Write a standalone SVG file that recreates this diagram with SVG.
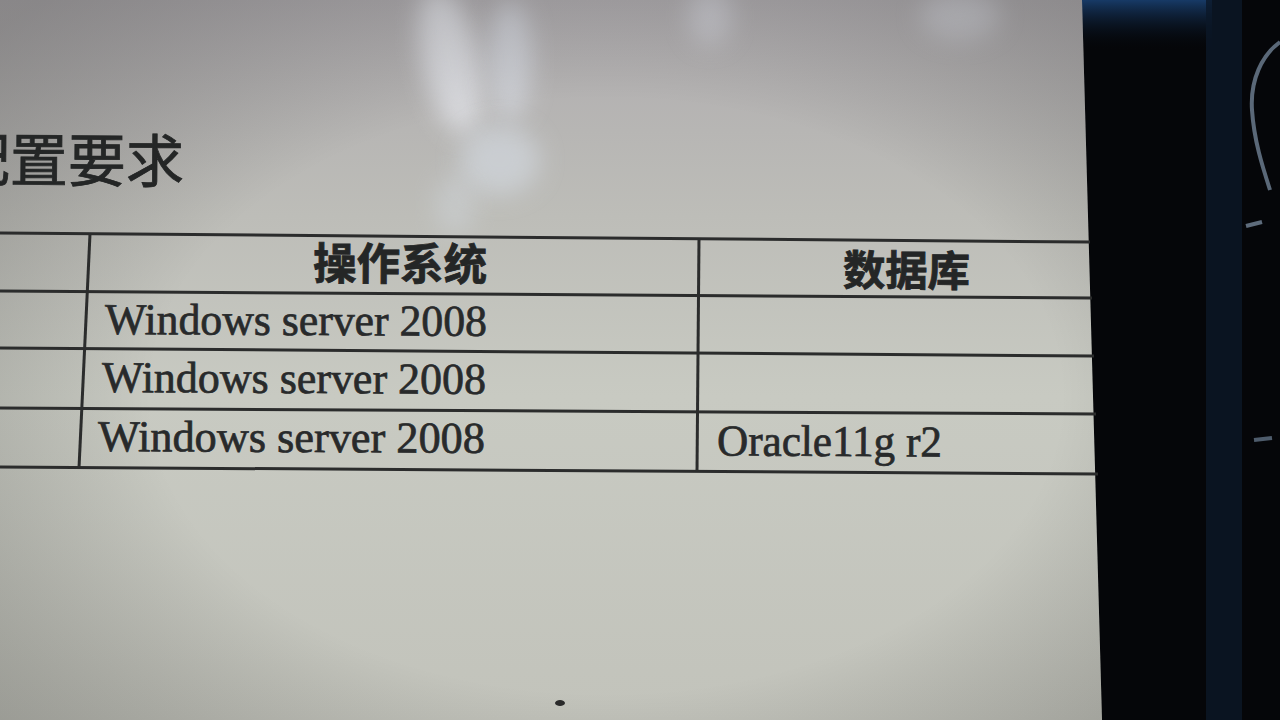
<svg xmlns="http://www.w3.org/2000/svg" width="1280" height="720" viewBox="0 0 1280 720">
<defs>
<linearGradient id="scr" x1="0" y1="0" x2="0" y2="1">
<stop offset="0" stop-color="#aeabae"/>
<stop offset="0.3" stop-color="#bdbdb8"/>
<stop offset="0.55" stop-color="#c8cac2"/>
<stop offset="1" stop-color="#c2c3bb"/>
</linearGradient>
<radialGradient id="vig" cx="0.55" cy="0.55" r="0.75">
<stop offset="0.55" stop-color="#000" stop-opacity="0"/>
<stop offset="1" stop-color="#2a2a28" stop-opacity="0.28"/>
</radialGradient>
<linearGradient id="blueglow" x1="0" y1="0" x2="0" y2="1">
<stop offset="0" stop-color="#173a66"/>
<stop offset="1" stop-color="#05080c" stop-opacity="0"/>
</linearGradient>
<filter id="blur" x="-50%" y="-50%" width="200%" height="200%"><feGaussianBlur stdDeviation="12"/></filter>
<filter id="soft"><feGaussianBlur stdDeviation="0.6"/></filter>
</defs>
<style>
.ln{stroke:#2b2c2c;stroke-width:3;fill:none}
.cjk{font-family:"Noto Sans CJK SC","Noto Sans CJK TC",sans-serif;fill:#242626;stroke:#242626;stroke-width:0.8}
.ser{font-family:"Liberation Serif","Times New Roman",serif;font-size:44px;fill:#282a2b;stroke:#282a2b;stroke-width:0.7}
</style>
<rect width="1280" height="720" fill="#050609"/>
<rect x="1082" y="0" width="130" height="50" fill="url(#blueglow)"/>
<rect x="1206" y="0" width="36" height="720" fill="#0b1828" opacity="0.8"/>
<path d="M1280 42 C1262 55 1250 80 1252 110 C1254 140 1262 165 1270 190" stroke="#5a6878" stroke-width="4" fill="none" filter="url(#soft)"/>
<path d="M1246 226 L1262 222" stroke="#5e6c7c" stroke-width="4"/>
<path d="M1254 440 L1272 438" stroke="#4e5c6c" stroke-width="4"/>
<g id="screen">
<polygon points="0,0 1082,0 1102,720 0,720" fill="url(#scr)"/>
<ellipse cx="450" cy="60" rx="28" ry="75" fill="#e6e8ee" opacity="0.7" filter="url(#blur)" transform="rotate(-12 450 60)"/>
<ellipse cx="510" cy="60" rx="22" ry="60" fill="#dfe4ee" opacity="0.55" filter="url(#blur)"/>
<ellipse cx="500" cy="160" rx="40" ry="35" fill="#d8dfe8" opacity="0.55" filter="url(#blur)"/>
<ellipse cx="455" cy="205" rx="20" ry="30" fill="#d8dfe8" opacity="0.35" filter="url(#blur)"/>
<ellipse cx="710" cy="15" rx="22" ry="30" fill="#d8dae2" opacity="0.5" filter="url(#blur)"/>
<ellipse cx="960" cy="15" rx="40" ry="25" fill="#d8dae2" opacity="0.5" filter="url(#blur)"/>
<polygon points="0,0 1082,0 1102,720 0,720" fill="url(#vig)"/>
<ellipse cx="560" cy="703" rx="5" ry="3" fill="#2a2a2a" filter="url(#soft)"/>
</g>
<g id="title">
<text class="cjk" x="-48" y="182" font-size="58" transform="rotate(0.4 90 160)">配置要求</text>
</g>
<g id="table">
<line class="ln" x1="0" y1="233" x2="1090" y2="242"/>
<line class="ln" x1="0" y1="291" x2="1092" y2="298"/>
<line class="ln" x1="0" y1="348" x2="1094" y2="356"/>
<line class="ln" x1="0" y1="408" x2="1096" y2="414"/>
<line class="ln" x1="0" y1="467" x2="1098" y2="474"/>
<line class="ln" x1="90" y1="234" x2="79" y2="468"/>
<line class="ln" x1="699" y1="238" x2="697" y2="472"/>
</g>
<g id="header">
<text class="cjk" x="313" y="280" font-size="44" font-weight="bold" textLength="174" lengthAdjust="spacingAndGlyphs" transform="rotate(0.4 400 265)">操作系统</text>
<text class="cjk" x="843" y="286" font-size="42" font-weight="bold" textLength="127" lengthAdjust="spacingAndGlyphs" transform="rotate(0.4 906 270)">数据库</text>
</g>
<g id="rows">
<text class="ser" x="105" y="335" textLength="382" lengthAdjust="spacingAndGlyphs" transform="rotate(0.3 300 320)">Windows server 2008</text>
<text class="ser" x="102" y="393" textLength="384" lengthAdjust="spacingAndGlyphs" transform="rotate(0.3 300 380)">Windows server 2008</text>
<text class="ser" x="98" y="452" textLength="387" lengthAdjust="spacingAndGlyphs" transform="rotate(0.3 300 440)">Windows server 2008</text>
<text class="ser" x="717" y="456" font-size="42" textLength="225" lengthAdjust="spacingAndGlyphs" transform="rotate(0.3 830 445)">Oracle11g r2</text>
</g>
</svg>
